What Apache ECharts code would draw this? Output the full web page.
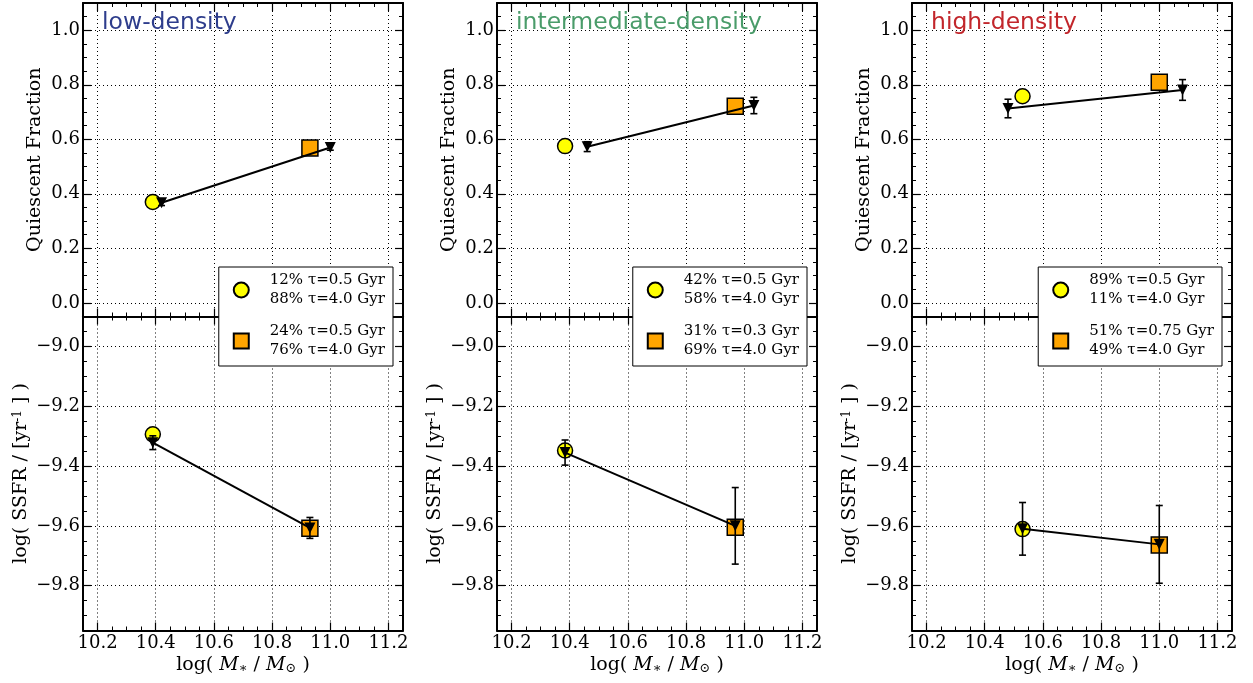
<!DOCTYPE html>
<html><head><meta charset="utf-8">
<script src="https://cdn.jsdelivr.net/npm/echarts@6/dist/echarts.min.js"></script>
<style>html,body{margin:0;padding:0;background:#fff}#c{width:1253px;height:683px}</style>
</head><body><div id="c"></div>
<script>
// ---------- data ----------
const panelTitles = ['low-density', 'intermediate-density', 'high-density'];
const titleColors = ['#2e3d8c', '#4a9c6a', '#c2262b'];
const legendCircle = ['12% τ=0.5 Gyr\n88% τ=4.0 Gyr', '42% τ=0.5 Gyr\n58% τ=4.0 Gyr', '89% τ=0.5 Gyr\n11% τ=4.0 Gyr'];
const legendSquare = ['24% τ=0.5 Gyr\n76% τ=4.0 Gyr', '31% τ=0.3 Gyr\n69% τ=4.0 Gyr', '51% τ=0.75 Gyr\n49% τ=4.0 Gyr'];

const circleX = [10.39, 10.384, 10.53];
const circleQF = [0.37, 0.575, 0.758];
const circleSSFR = [-9.294, -9.348, -9.611];
const squareX = [10.93, 10.969, 11.0];
const squareQF = [0.568, 0.721, 0.809];
const squareSSFR = [-9.608, -9.605, -9.664];

const triQFX = [[10.42, 11.0], [10.46, 11.033], [10.48, 11.08]];
const triQF = [[0.367, 0.57], [0.573, 0.724], [0.713, 0.781]];
const triQFErr = [[0.01, 0.01], [0.018, 0.03], [0.034, 0.038]];
const triSSFRX = [[10.39, 10.93], [10.384, 10.969], [10.53, 11.0]];
const triSSFR = [[-9.322, -9.607], [-9.355, -9.6], [-9.61, -9.662]];
const triSSFRErr = [[0.023, 0.035], [0.042, 0.128], [0.088, 0.13]];

const xTicks = [10.2, 10.4, 10.6, 10.8, 11.0, 11.2];
const qfTicks = [0.0, 0.2, 0.4, 0.6, 0.8, 1.0];
const ssfrTicks = [-9.8, -9.6, -9.4, -9.2, -9.0];
const xRange = [10.15, 11.25];
const qfRange = [-0.05, 1.1];
const ssfrRange = [-9.95, -8.9];

// ---------- layout ----------
const W = 1253;
const panelLeft = [83, 497, 912];
const panelWidth = 320;
const rows = [{ top: 3, height: 313.5 }, { top: 316.5, height: 314 }];
const SERIF = 'DejaVu Serif';
const TICK_FS = 18, NAME_FS = 19;
const fmt = v => (Math.round(v * 10) / 10).toFixed(1).replace('-', '\u2212');

const grid = [], xAxis = [], yAxis = [], series = [], legend = [], title = [];

for (let p = 0; p < 3; p++) {
  title.push({
    text: panelTitles[p], left: panelLeft[p] + 19, top: 11, padding: 0,
    textStyle: { fontFamily: 'DejaVu Sans', fontSize: 23.5, fontWeight: 'normal', color: titleColors[p] }
  });
  for (let r = 0; r < 2; r++) {
    const g = p * 2 + r;
    grid.push({ left: panelLeft[p], width: panelWidth, top: rows[r].top, height: rows[r].height, containLabel: false });
    const yr = r === 0 ? qfRange : ssfrRange;
    const yt = r === 0 ? qfTicks : ssfrTicks;
    const xMajor = (pos, main) => ({
      type: 'value', gridIndex: g, position: pos, min: xRange[0], max: xRange[1],
      axisLine: { show: true, onZero: false, lineStyle: { color: '#000', width: 2 } },
      axisTick: { show: true, inside: true, length: 8, customValues: xTicks, lineStyle: { color: '#000', width: 1.2 } },
      axisLabel: { show: main && r === 1, customValues: xTicks, formatter: fmt, margin: 4,
        fontFamily: SERIF, fontSize: TICK_FS, color: '#000' },
      splitLine: { show: main, lineStyle: { color: '#000', type: [1, 3], width: 1 } },
      name: (main && r === 1) ? '{a|log( }{i|M}{b|\u2217}{a| / }{i|M}{b|\u2299}{a| )}' : '',
      nameLocation: 'middle', nameGap: 25,
      nameTextStyle: { rich: {
        a: { fontFamily: SERIF, fontSize: NAME_FS, color: '#000' },
        i: { fontFamily: SERIF, fontSize: NAME_FS, fontStyle: 'italic', color: '#000' },
        b: { fontFamily: SERIF, fontSize: 13, color: '#000', verticalAlign: 'bottom', padding: [7, 0, 0, 0] }
      } }
    });
    const xMinor = pos => ({
      type: 'value', gridIndex: g, position: pos, min: xRange[0], max: xRange[1], interval: 0.05,
      axisLine: { show: false, onZero: false },
      axisTick: { show: true, inside: true, length: 4, lineStyle: { color: '#000', width: 1 } },
      axisLabel: { show: false }, splitLine: { show: false }
    });
    xAxis.push(xMajor('bottom', true), xMajor('top', false), xMinor('bottom'), xMinor('top'));
    const yName = r === 0 ? 'Quiescent Fraction' : '{a|log( SSFR / [yr}{s|-1}{a| ] )}';
    const yMajor = (pos, main) => ({
      type: 'value', gridIndex: g, position: pos, min: yr[0], max: yr[1],
      axisLine: { show: true, onZero: false, lineStyle: { color: '#000', width: 2 } },
      axisTick: { show: true, inside: true, length: 8, customValues: yt, lineStyle: { color: '#000', width: 1.2 } },
      axisLabel: { show: main, customValues: yt, formatter: fmt, margin: 3,
        fontFamily: SERIF, fontSize: TICK_FS, color: '#000' },
      splitLine: { show: main, lineStyle: { color: '#000', type: [1, 3], width: 1 } },
      name: main ? yName : '', nameLocation: 'middle', nameGap: r === 0 ? 38 : 52,
      nameTextStyle: { fontFamily: SERIF, fontSize: NAME_FS, color: '#000', rich: {
        a: { fontFamily: SERIF, fontSize: NAME_FS, color: '#000' },
        s: { fontFamily: SERIF, fontSize: 12, color: '#000', verticalAlign: 'top', padding: [0, 0, 7, 0] }
      } }
    });
    const yMinor = pos => ({
      type: 'value', gridIndex: g, position: pos, min: yr[0], max: yr[1], interval: 0.05,
      axisLine: { show: false, onZero: false },
      axisTick: { show: true, inside: true, length: 4, lineStyle: { color: '#000', width: 1 } },
      axisLabel: { show: false }, splitLine: { show: false }
    });
    yAxis.push(yMajor('left', true), yMajor('right', false), yMinor('left'), yMinor('right'));

    const ai = g * 4;
    const cy = r === 0 ? circleQF[p] : circleSSFR[p];
    const sy = r === 0 ? squareQF[p] : squareSSFR[p];
    series.push({
      type: 'scatter', name: legendCircle[p], xAxisIndex: ai, yAxisIndex: ai, z: 2,
      symbol: 'circle', symbolSize: 15, data: [[circleX[p], cy]],
      itemStyle: { color: '#ffff00', borderColor: '#000', borderWidth: 1.5, opacity: 1 }
    });
    series.push({
      type: 'scatter', name: legendSquare[p], xAxisIndex: ai, yAxisIndex: ai, z: 2,
      symbol: 'rect', symbolSize: 16, data: [[squareX[p], sy]],
      itemStyle: { color: '#ffa500', borderColor: '#000', borderWidth: 1.5, opacity: 1 }
    });
    const tx = r === 0 ? triQFX[p] : triSSFRX[p];
    const ty = r === 0 ? triQF[p] : triSSFR[p];
    const te = r === 0 ? triQFErr[p] : triSSFRErr[p];
    series.push({
      type: 'custom', xAxisIndex: ai, yAxisIndex: ai, z: 4,
      data: tx.map((x, i) => [x, ty[i], te[i]]),
      renderItem: (params, api) => {
        const x = api.value(0), y = api.value(1), e = api.value(2);
        const a = api.coord([x, y + e]), b = api.coord([x, y - e]);
        const st = { stroke: '#000', lineWidth: 1.6 };
        return { type: 'group', children: [
          { type: 'line', shape: { x1: a[0], y1: a[1], x2: b[0], y2: b[1] }, style: st },
          { type: 'line', shape: { x1: a[0] - 3.5, y1: a[1], x2: a[0] + 3.5, y2: a[1] }, style: st },
          { type: 'line', shape: { x1: b[0] - 3.5, y1: b[1], x2: b[0] + 3.5, y2: b[1] }, style: st }
        ] };
      }
    });
    series.push({
      type: 'line', xAxisIndex: ai, yAxisIndex: ai, z: 3,
      data: tx.map((x, i) => [x, ty[i]]),
      symbol: 'triangle', symbolRotate: 180, symbolSize: 11, showSymbol: true,
      lineStyle: { color: '#000', width: 2 }, itemStyle: { color: '#000' }
    });
  }
  const legRight = [W - 393, W - 807, W - 1222][p];
  legend.push({
    data: [legendCircle[p], legendSquare[p]], orient: 'vertical', right: legRight, top: 267,
    backgroundColor: '#fff', borderColor: '#000', borderWidth: 1, borderRadius: 0,
    padding: [4, 8, 6, 14], itemGap: 13, itemWidth: 15, itemHeight: 15,
    selectedMode: false, z: 10,
    textStyle: { fontFamily: SERIF, fontSize: 15, lineHeight: 19, color: '#000', padding: [0, 0, 0, 16] }
  });
}

const chart = echarts.init(document.getElementById('c'), null, { renderer: 'canvas' });
chart.setOption({ animation: false, backgroundColor: '#fff', title, grid, xAxis, yAxis, series, legend });
</script>
</body></html>
